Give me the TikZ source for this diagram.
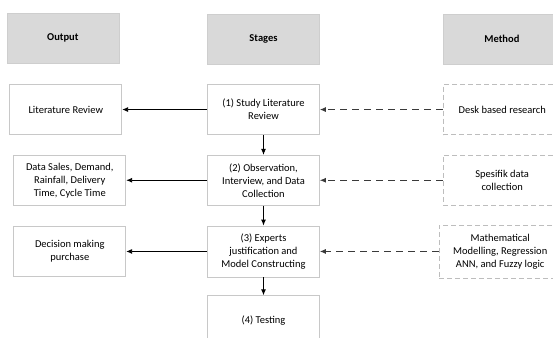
\documentclass[tikz,border=0pt]{standalone}
\usepackage{fontspec}
\setmainfont{Carlito}
\usepackage{tikz}
\usetikzlibrary{arrows.meta,positioning}

\definecolor{hdrgray}{HTML}{D9D9D9}
\definecolor{boxline}{HTML}{C8C8C8}
\definecolor{dashline}{HTML}{BDBDBD}
\definecolor{arrgray}{HTML}{3A3A3A}

\begin{document}
\begin{tikzpicture}[
  font=\fontsize{10.5}{13}\selectfont, node distance=20pt,
  hdr/.style={fill=hdrgray, draw=hdrgray!95!black, line width=0.4pt, minimum width=112pt, minimum height=50pt, align=center, font=\fontsize{10.5}{13}\selectfont\bfseries},
  b/.style={draw=boxline, line width=0.7pt, minimum width=112pt, minimum height=50pt, align=center, inner sep=2pt},
  db/.style={b, draw=dashline, dash pattern=on 5pt off 3pt},
  pf/.style={-{Latex[length=6pt,width=5pt]}, line width=0.9pt},
  df/.style={pf, draw=arrgray, dash pattern=on 7pt off 5pt}
]
\clip (0,0) rectangle (553pt,-337pt);
% stages column
\node[hdr] (hstage) at (263.5pt,-39pt) {Stages};
\node[b, below=of hstage] (s1) {(1) Study Literature\\Review};
\node[b, below=of s1] (s2) {(2) Observation,\\Interview, and Data\\Collection};
\node[b, below=of s2, minimum height=51pt] (s3) {(3) Experts\\justification and\\Model Constructing};
\node[b, below=18pt of s3] (s4) {(4) Testing};
% output column
\node[b, left=85pt of s1] (o1) {Literature Review};
\node[b, left=81pt of s2] (o2) {Data Sales, Demand,\\Rainfall, Delivery\\Time, Cycle Time};
\node[b, left=81pt of s3] (o3) {Decision making\\purchase};
\node[hdr, above=21pt of o1, xshift=-3pt] (hout) {Output};
% method column (right side runs past the page edge)
\node[db, right=123pt of s1, minimum width=118pt] (m1) {Desk based research};
\node[db, right=123pt of s2, minimum width=118pt] (m2) {Spesifik data\\collection};
\node[db, right=119pt of s3, minimum width=122pt, minimum height=53pt] (m3) {Mathematical\\Modelling, Regression\\ANN, and Fuzzy logic};
\node[hdr, right=123pt of hstage, minimum width=118pt] (hmeth) {Method};
% connectors
\draw[pf] (s1)--(s2); \draw[pf] (s2)--(s3); \draw[pf] (s3)--(s4);
\draw[pf] (s1)--(o1); \draw[pf] (s2)--(o2); \draw[pf] (s3)--(o3);
\draw[df] (m1)--(s1); \draw[df] (m2)--(s2); \draw[df] (m3)--(s3);
\end{tikzpicture}
\end{document}
